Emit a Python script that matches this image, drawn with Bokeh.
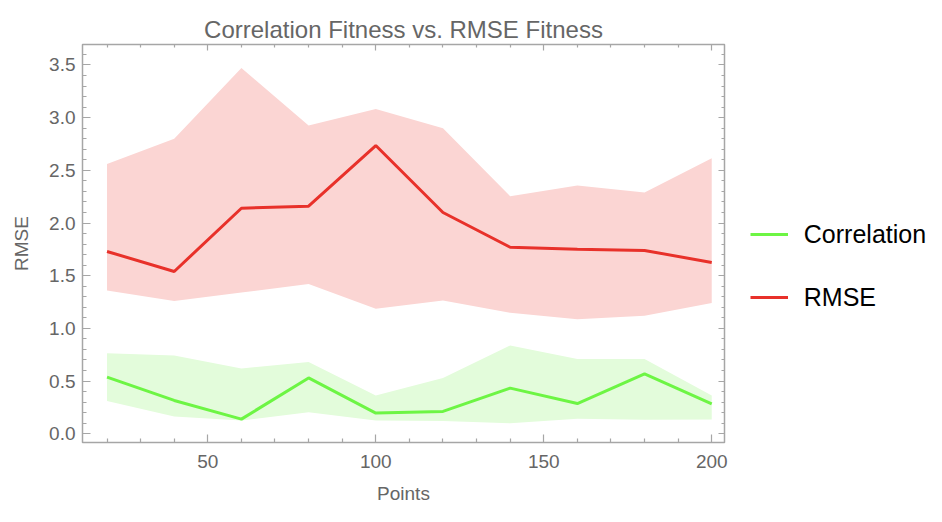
from bokeh.plotting import figure
from bokeh.models import (Range1d, LinearAxis, Legend, LegendItem,
                          PrintfTickFormatter, Title, FixedTicker)
from bokeh.embed import file_html
from bokeh.resources import INLINE

points = [20, 40, 60, 80, 100, 120, 140, 160, 180, 200]
rmse_mean = [1.73, 1.54, 2.14, 2.16, 2.735, 2.10, 1.77, 1.75, 1.74, 1.625]
rmse_high = [2.56, 2.80, 3.47, 2.925, 3.083, 2.90, 2.255, 2.355, 2.29, 2.615]
rmse_low = [1.36, 1.26, 1.34, 1.42, 1.186, 1.265, 1.148, 1.087, 1.12, 1.24]
corr_mean = [0.537, 0.316, 0.139, 0.53, 0.196, 0.212, 0.433, 0.287, 0.569, 0.284]
corr_high = [0.765, 0.743, 0.62, 0.68, 0.363, 0.528, 0.838, 0.71, 0.71, 0.363]
corr_low = [0.31, 0.164, 0.126, 0.205, 0.126, 0.12, 0.10, 0.142, 0.133, 0.136]

x_major_ticks = [50, 100, 150, 200]
x_minor_ticks = [20, 30, 40, 60, 70, 80, 90, 110, 120, 130, 140, 160, 170, 180, 190]
y_major_ticks = [0.0, 0.5, 1.0, 1.5, 2.0, 2.5, 3.0, 3.5]
y_minor_ticks = [0.1, 0.2, 0.3, 0.4, 0.6, 0.7, 0.8, 0.9, 1.1, 1.2, 1.3, 1.4,
                 1.6, 1.7, 1.8, 1.9, 2.1, 2.2, 2.3, 2.4, 2.6, 2.7, 2.8, 2.9,
                 3.1, 3.2, 3.3, 3.4, 3.6]

title_text = "Correlation Fitness vs. RMSE Fitness"
x_label = "Points"
y_label = "RMSE"
series_names = ["Correlation", "RMSE"]

FONT = "Liberation Sans"
GREY = "#666666"
FRAME = "#A6A6A6"
RED = "#E8312A"
GREEN = "#6DF544"
RED_FILL = "#FBD5D3"
GREEN_FILL = "#E3FCDB"

p = figure(width=926, height=506, output_backend="svg", toolbar_location=None,
           x_range=Range1d(12.7, 203.8), y_range=Range1d(-0.083, 3.694),
           frame_width=642, frame_height=398,
           min_border_left=82, min_border_right=200, min_border_top=44, min_border_bottom=62,
           x_axis_location=None, y_axis_location=None)
p.background_fill_color = "white"
p.border_fill_color = "white"
p.outline_line_color = FRAME
p.outline_line_width = 1.5
p.xgrid.visible = False
p.ygrid.visible = False

p.title = Title(text=title_text, align="center", text_font=FONT, text_font_size="24px",
                text_color=GREY, text_font_style="normal", standoff=4)

def style_ticks(ax, major_in, minor_in):
    ax.axis_line_color = None
    ax.major_tick_line_color = FRAME
    ax.minor_tick_line_color = FRAME
    ax.major_tick_in = major_in
    ax.major_tick_out = 0
    ax.minor_tick_in = minor_in
    ax.minor_tick_out = 0
    ax.major_tick_line_width = 1.2
    ax.minor_tick_line_width = 1.2

def style_labels(ax, label):
    ax.major_label_text_font = FONT
    ax.major_label_text_font_size = "19px"
    ax.major_label_text_color = GREY
    ax.axis_label = label
    ax.axis_label_text_font = FONT
    ax.axis_label_text_font_size = "19px"
    ax.axis_label_text_color = GREY
    ax.axis_label_text_font_style = "normal"

# labelled bottom / left axes
xb = LinearAxis(ticker=FixedTicker(ticks=x_major_ticks, minor_ticks=x_minor_ticks))
style_ticks(xb, 8, 4)
style_labels(xb, x_label)
xb.major_label_standoff = 12
xb.axis_label_standoff = 12
p.add_layout(xb, "below")

yl = LinearAxis(ticker=FixedTicker(ticks=y_major_ticks, minor_ticks=y_minor_ticks),
                formatter=PrintfTickFormatter(format="%.1f"))
style_ticks(yl, 8, 4)
style_labels(yl, y_label)
yl.major_label_standoff = 7
yl.axis_label_standoff = 14
p.add_layout(yl, "left")

# unlabelled top / right frame ticks (drawn as "minor" ticks so no labels exist)
def frame_ticks(side, major, minor):
    a1 = LinearAxis(ticker=FixedTicker(ticks=[], minor_ticks=minor), major_label_standoff=0)
    style_ticks(a1, 0, 3)
    p.add_layout(a1, side)
    a2 = LinearAxis(ticker=FixedTicker(ticks=[], minor_ticks=major), major_label_standoff=0)
    style_ticks(a2, 0, 6)
    p.add_layout(a2, side)

frame_ticks("above", x_major_ticks, x_minor_ticks)
frame_ticks("right", y_major_ticks, y_minor_ticks)

p.varea(x=points, y1=rmse_low, y2=rmse_high, fill_color=RED_FILL, fill_alpha=1.0)
p.varea(x=points, y1=corr_low, y2=corr_high, fill_color=GREEN_FILL, fill_alpha=1.0)
r_corr = p.line(points, corr_mean, line_color=GREEN, line_width=3)
r_rmse = p.line(points, rmse_mean, line_color=RED, line_width=3)

legend = Legend(items=[LegendItem(label=series_names[0], renderers=[r_corr]),
                       LegendItem(label=series_names[1], renderers=[r_rmse])],
                location=(-282, 130))
legend.background_fill_alpha = 0
legend.border_line_alpha = 0
legend.label_text_font = FONT
legend.label_text_font_size = "25px"
legend.label_text_color = "black"
legend.glyph_width = 38
legend.glyph_height = 30
legend.label_height = 30
legend.label_standoff = 16
legend.spacing = 33
legend.padding = 0
legend.margin = 0
p.add_layout(legend, "right")

open("out.html", "w").write(file_html(p, INLINE))
